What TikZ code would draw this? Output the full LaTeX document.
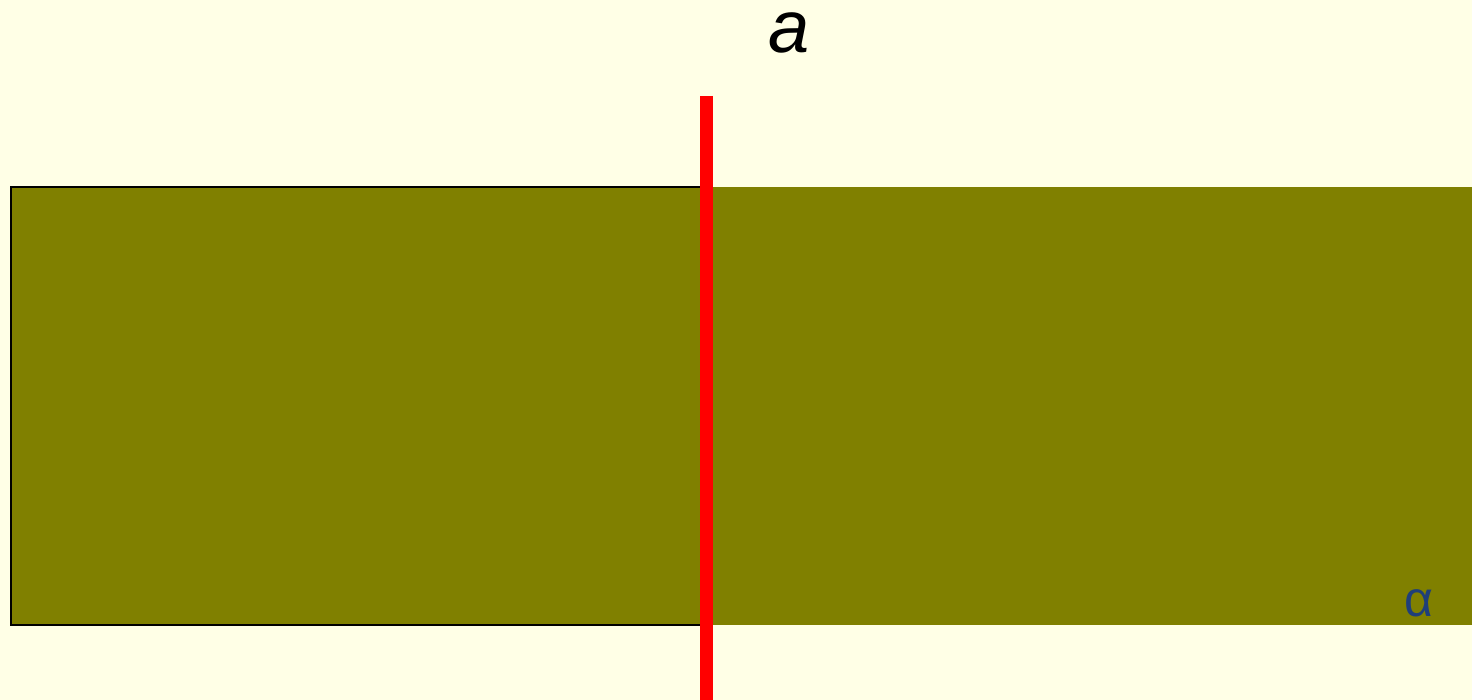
\documentclass[tikz,border=0pt]{standalone}
\usepackage{fontspec}
\setmainfont{Liberation Sans}
\definecolor{bgyellow}{RGB}{255,255,230}
\definecolor{planeolive}{RGB}{128,128,0}
\definecolor{alphablue}{RGB}{31,63,122}
\definecolor{linered}{RGB}{255,0,0}
\begin{document}
\begin{tikzpicture}[x=1pt,y=-1pt,
  plane/.style={fill=planeolive,draw=none},
  redline/.style={draw=linered,line width=13pt},
  lbl/.style={inner sep=0pt,anchor=center}]
\fill[bgyellow] (0,0) rectangle (1472,700);
\useasboundingbox (0,0) rectangle (1472,700);
% plane alpha
\fill[plane] (11,187) rectangle (1472,625);
\draw[black,line width=1.6pt] (706,187) -- (11,187) -- (11,625) -- (706,625);
% line a
\coordinate (atop) at (706.5,96);
\coordinate (abot) at (706.5,700);
\draw[redline] (atop) -- (abot);
\node[lbl] (alabel) at (789,33) {\fontsize{74}{74}\selectfont\itshape a};
\node[lbl] (alpha) at (1419,603) {\fontsize{50}{50}\selectfont\color{alphablue}α};
\end{tikzpicture}
\end{document}
